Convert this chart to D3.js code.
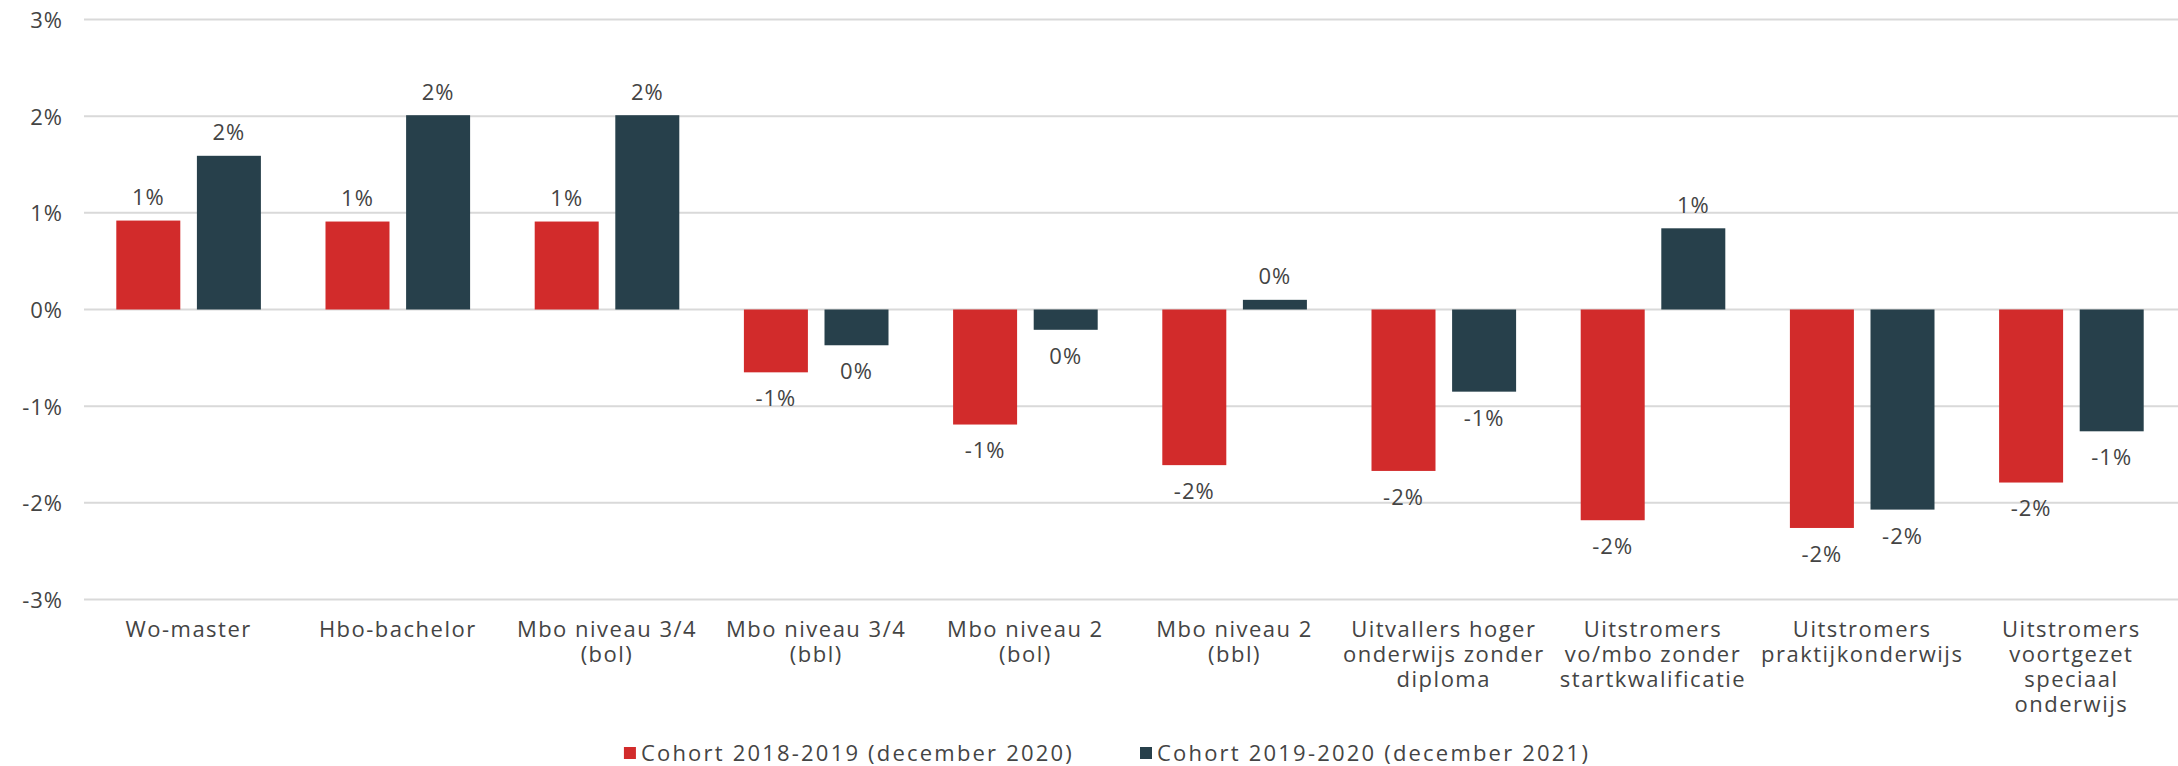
<!DOCTYPE html>
<html>
<head>
<meta charset="utf-8">
<script src="https://cdn.jsdelivr.net/npm/d3@7"></script>
<style>
  html, body { margin: 0; padding: 0; background: #ffffff; }
  svg { display: block; }
  text { font-family: "Open Sans", "DejaVu Sans", sans-serif; fill: #444444; }
</style>
</head>
<body>
<svg id="chart" width="2178" height="766"></svg>
<script>
// ---- data ----
const categories = [
  ["Wo-master"],
  ["Hbo-bachelor"],
  ["Mbo niveau 3/4", "(bol)"],
  ["Mbo niveau 3/4", "(bbl)"],
  ["Mbo niveau 2", "(bol)"],
  ["Mbo niveau 2", "(bbl)"],
  ["Uitvallers hoger", "onderwijs zonder", "diploma"],
  ["Uitstromers", "vo/mbo zonder", "startkwalificatie"],
  ["Uitstromers", "praktijkonderwijs"],
  ["Uitstromers", "voortgezet", "speciaal", "onderwijs"]
];
const seriesNames = ["Cohort 2018-2019 (december 2020)", "Cohort 2019-2020 (december 2021)"];
const cohort2018 = [0.92, 0.91, 0.91, -0.65, -1.19, -1.61, -1.67, -2.18, -2.26, -1.79];
const cohort2019 = [1.59, 2.01, 2.01, -0.37, -0.21, 0.10, -0.85, 0.84, -2.07, -1.26];
const yTicks = [-3, -2, -1, 0, 1, 2, 3];
const colors = ["#D22B2B", "#27404B"];

// ---- layout ----
const svg = d3.select("#chart");
const fontSize = 22;
const letterSpacing = 1.5;

const catKeys = categories.map(c => c.join(" "));
const x0 = d3.scaleBand().domain(catKeys).range([84, 2176]).padding(0);
const x1 = d3.scaleBand().domain([0, 1])
  .range([32.3, x0.bandwidth() - 32.3]).paddingInner(0.206).paddingOuter(0);
const y = d3.scaleLinear().domain([-3, 3]).range([599.5, 19.5]);

const fmt = d3.formatLocale({decimal: ".", thousands: ",", grouping: [3], currency: ["", ""], minus: "-", percent: "%"}).format(".0%");

// gridlines
svg.append("g").selectAll("line").data(yTicks).join("line")
  .attr("x1", 84).attr("x2", 2178)
  .attr("y1", d => y(d)).attr("y2", d => y(d))
  .attr("stroke", "#d9d9d9").attr("stroke-width", 2);

// y axis labels
const yAxis = d3.axisLeft(y).tickValues(yTicks).tickSize(0).tickPadding(0)
  .tickFormat(d => fmt(d / 100));
const gy = svg.append("g").attr("transform", "translate(63,0)").call(yAxis);
gy.select(".domain").remove();
gy.selectAll("text")
  .attr("font-size", fontSize).attr("letter-spacing", 1)
  .attr("font-family", null).attr("fill", "#444444").attr("dy", "0.36em");

// bars
const series = [cohort2018, cohort2019];
const groups = svg.append("g").selectAll("g").data(catKeys).join("g")
  .attr("transform", d => `translate(${x0(d)},0)`);

groups.selectAll("rect")
  .data((d, i) => series.map((s, j) => ({s: j, v: s[i]})))
  .join("rect")
  .attr("x", d => x1(d.s))
  .attr("width", x1.bandwidth())
  .attr("y", d => y(Math.max(0, d.v)))
  .attr("height", d => Math.abs(y(d.v) - y(0)))
  .attr("fill", d => colors[d.s]);

// value labels
groups.selectAll("text.val")
  .data((d, i) => series.map((s, j) => ({s: j, v: s[i]})))
  .join("text").attr("class", "val")
  .attr("x", d => x1(d.s) + x1.bandwidth() / 2)
  .attr("y", d => d.v >= 0 ? y(d.v) - 23.5 : y(d.v) + 26)
  .attr("dy", "0.36em")
  .attr("text-anchor", "middle")
  .attr("font-size", fontSize).attr("letter-spacing", 1)
  .text(d => fmt(d.v / 100));

// category labels
const gx = svg.append("g");
categories.forEach((lines, i) => {
  const cx = x0(catKeys[i]) + x0.bandwidth() / 2;
  lines.forEach((ln, k) => {
    gx.append("text")
      .attr("x", cx)
      .attr("y", 629 + k * 25)
      .attr("dy", "0.36em")
      .attr("text-anchor", "middle")
      .attr("font-size", fontSize).attr("letter-spacing", letterSpacing)
      .text(ln);
  });
});

// legend
const legend = svg.append("g");
const items = seriesNames.map((name, i) => {
  const g = legend.append("g");
  g.append("rect").attr("x", 0).attr("y", -6).attr("width", 12).attr("height", 12).attr("fill", colors[i]);
  const t = g.append("text").attr("x", 17).attr("y", 0).attr("dy", "0.36em")
    .attr("font-size", fontSize).attr("letter-spacing", 2.2).text(name);
  return {g, w: 17 + t.node().getComputedTextLength()};
});
const gap = 66;
const totalW = items.reduce((a, b) => a + b.w, 0) + gap * (items.length - 1);
let lx = 1107 - totalW / 2;
items.forEach(it => {
  it.g.attr("transform", `translate(${lx},753)`);
  lx += it.w + gap;
});
</script>
</body>
</html>
